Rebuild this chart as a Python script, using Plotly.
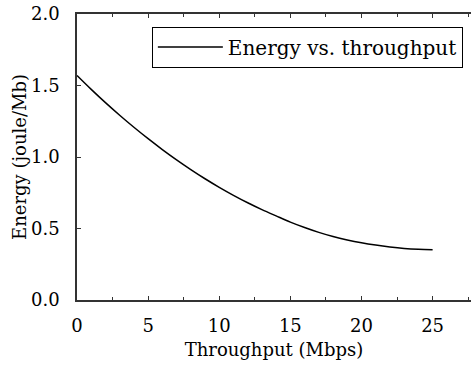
import plotly.graph_objects as go

throughput = [0, 1, 2, 3, 4, 5, 6, 7, 8, 9, 10, 11, 12, 13, 14, 15, 16, 17, 18, 19, 20, 21, 22, 23, 24, 25]
energy = [1.570, 1.473, 1.380, 1.292, 1.208, 1.128, 1.052, 0.980, 0.912, 0.848, 0.788, 0.732, 0.680, 0.632, 0.588,
          0.545, 0.507, 0.473, 0.444, 0.420, 0.400, 0.384, 0.371, 0.361, 0.355, 0.352]

font_family = "DejaVu Serif"
axis_color = "#333333"

fig = go.Figure()
fig.add_trace(go.Scatter(
    x=throughput, y=energy, mode="lines",
    line=dict(color="black", width=1.5, shape="spline"),
    name="Energy vs. throughput",
))

fig.update_layout(
    width=471, height=370,
    margin=dict(l=77, r=0, t=14, b=70, autoexpand=False),
    paper_bgcolor="white", plot_bgcolor="white",
    font=dict(family=font_family, size=18, color="black"),
    showlegend=True,
    legend=dict(
        x=0.19, y=0.956, xanchor="left", yanchor="top",
        bordercolor="black", borderwidth=1, bgcolor="white",
        font=dict(family=font_family, size=20, color="black"),
        itemwidth=65,
    ),
    xaxis=dict(
        range=[0, 27.7], tickvals=[0, 5, 10, 15, 20, 25],
        ticks="inside", ticklen=4, tickcolor=axis_color, tickwidth=1,
        minor=dict(ticks="inside", ticklen=3, tickcolor=axis_color, dtick=2.5, tick0=0),
        showline=True, linecolor=axis_color, linewidth=1.5, mirror="ticks",
        showgrid=False, zeroline=False,
        title=dict(text="Throughput (Mbps)", standoff=8, font=dict(family=font_family, size=18)),
        tickfont=dict(family=font_family, size=18), ticklabelstandoff=9,
    ),
    yaxis=dict(
        range=[0, 2.0], tickvals=[0, 0.5, 1.0, 1.5, 2.0], ticktext=["0.0", "0.5", "1.0", "1.5", "2.0"],
        ticks="inside", ticklen=4, tickcolor=axis_color, tickwidth=1,
        showline=True, linecolor=axis_color, linewidth=1.5, mirror=False,
        showgrid=False, zeroline=False,
        title=dict(text="Energy (joule/Mb)", standoff=0, font=dict(family=font_family, size=18)),
        tickfont=dict(family=font_family, size=18), ticklabelstandoff=12,
    ),
)

fig.write_html("out.html")
